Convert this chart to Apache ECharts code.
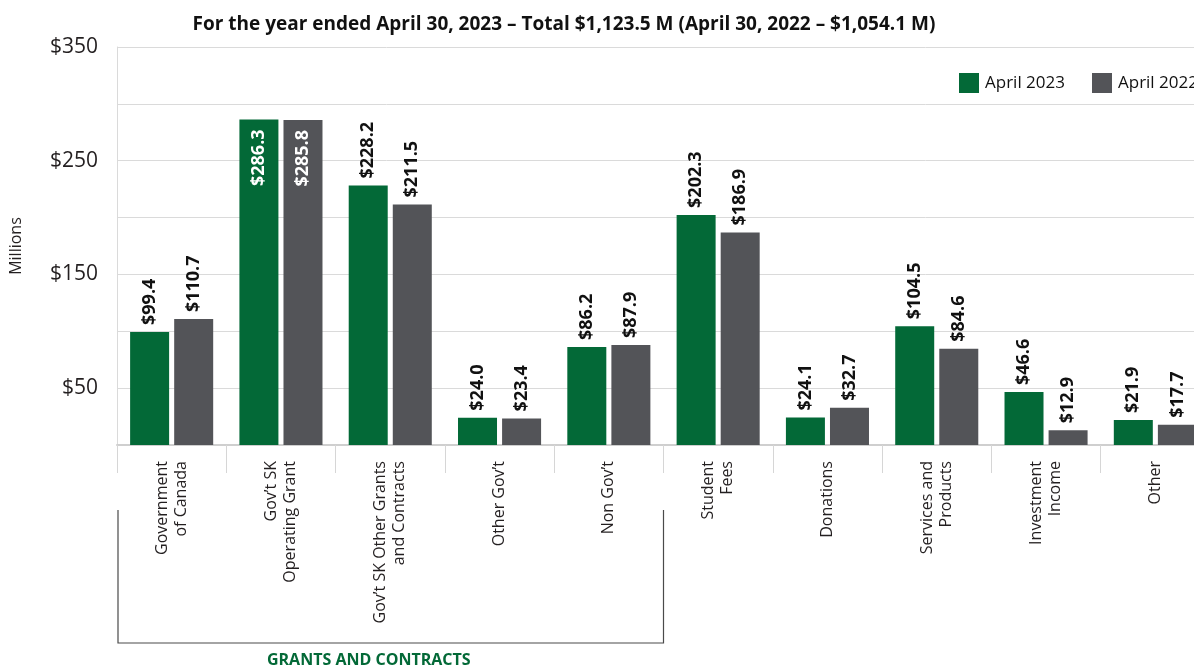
<!DOCTYPE html>
<html>
<head>
<meta charset="utf-8">
<script src="https://cdn.jsdelivr.net/npm/echarts@6/dist/echarts.min.js"></script>
<style>
html,body{margin:0;padding:0;background:#fff;}
#main{width:1194px;height:669px;}
</style>
</head>
<body>
<div id="main"></div>
<script>
const titleText = 'For the year ended April 30, 2023 – Total $1,123.5 M (April 30, 2022 – $1,054.1 M)';
const categories = [
  'Government\nof Canada',
  'Gov’t SK\nOperating Grant',
  'Gov’t SK Other Grants\nand Contracts',
  'Other Gov’t',
  'Non Gov’t',
  'Student\nFees',
  'Donations',
  'Services and\nProducts',
  'Investment\nIncome',
  'Other'
];
const seriesNames = ['April 2023', 'April 2022'];
const values2023 = [99.4, 286.3, 228.2, 24.0, 86.2, 202.3, 24.1, 104.5, 46.6, 21.9];
const values2022 = [110.7, 285.8, 211.5, 23.4, 87.9, 186.9, 32.7, 84.6, 12.9, 17.7];
const groupLabel = 'GRANTS AND CONTRACTS';
const groupCount = 5; // first five categories are grants and contracts
const yMin = 0, yMax = 350, yInterval = 50;

const GREEN = '#036937';
const GREY = '#535458';
const FONT = '"Open Sans", "Noto Sans", sans-serif';

function money(v){ return '$' + v.toFixed(1); }

function makeData(vals){
  return vals.map(v => {
    if (v > 260) {
      return {
        value: v,
        label: {
          position: 'insideTop',
          align: 'right',
          distance: 10,
          color: '#ffffff'
        }
      };
    }
    return v;
  });
}

const baseLabel = {
  show: true,
  position: 'top',
  rotate: 90,
  align: 'left',
  verticalAlign: 'middle',
  distance: 7,
  formatter: p => money(p.value),
  fontFamily: FONT,
  fontWeight: 'bold',
  fontSize: 18,
  color: '#111111'
};

const chart = echarts.init(document.getElementById('main'), null, {renderer: 'canvas'});

const option = {
  animation: false,
  backgroundColor: '#ffffff',
  title: {
    text: titleText,
    left: 559,
    textAlign: 'center',
    top: 10,
    textStyle: {fontFamily: FONT, fontWeight: 'bold', fontSize: 19, color: '#111111'}
  },
  legend: {
    data: seriesNames,
    left: 954,
    top: 68,
    width: 400,
    orient: 'horizontal',
    itemWidth: 20,
    itemHeight: 20,
    itemGap: 27,
    icon: 'rect',
    textStyle: {fontFamily: FONT, fontSize: 17, color: '#111111', padding: [0,0,0,1]}
  },
  grid: {left: 117, width: 1093, top: 47, height: 398, containLabel: false, outerBoundsMode: 'none'},
  xAxis: {
    type: 'category',
    data: categories,
    boundaryGap: true,
    axisLine: {show: true, lineStyle: {color: '#cfcfcf', width: 2}},
    axisTick: {show: true, interval: 0, length: 28, lineStyle: {color: '#d6d6d6', width: 1}},
    axisLabel: {
      interval: 0,
      rotate: 90,
      margin: 16,
      fontFamily: FONT,
      fontSize: 16,
      lineHeight: 19,
      color: '#231f20'
    }
  },
  yAxis: {
    type: 'value',
    min: yMin,
    max: yMax,
    interval: yInterval,
    name: 'Millions',
    nameLocation: 'middle',
    nameRotate: 90,
    nameGap: 93,
    nameTextStyle: {fontFamily: FONT, fontSize: 16, color: '#231f20'},
    axisLine: {show: true, lineStyle: {color: '#dadada', width: 1}},
    axisTick: {show: false},
    splitLine: {show: true, lineStyle: {color: '#dadada', width: 1}},
    axisLabel: {
      margin: 19,
      fontFamily: FONT,
      fontSize: 21,
      color: '#231f20',
      formatter: v => (v % 100 === 50 ? '$' + v : '')
    }
  },
  series: [
    {
      name: seriesNames[0],
      type: 'bar',
      data: makeData(values2023),
      barWidth: 39,
      barGap: '13%',
      itemStyle: {color: GREEN},
      label: baseLabel
    },
    {
      name: seriesNames[1],
      type: 'bar',
      data: makeData(values2022),
      barWidth: 39,
      barGap: '13%',
      itemStyle: {color: GREY},
      label: baseLabel
    }
  ]
};

chart.setOption(option);

// Bracket under the grants and contracts categories, positioned from the category scale
const c0 = chart.convertToPixel({xAxisIndex: 0}, 0);
const c1 = chart.convertToPixel({xAxisIndex: 0}, 1);
const band = c1 - c0;
const bx0 = c0 - band / 2 + 1;
const bx1 = chart.convertToPixel({xAxisIndex: 0}, groupCount - 1) + band / 2;
const byTop = 510, byBot = 643;
chart.setOption({
  graphic: [
    {
      type: 'polyline',
      shape: {points: [[bx0, byTop], [bx0, byBot], [bx1, byBot], [bx1, byTop]]},
      style: {stroke: '#4a4a4a', lineWidth: 1.2, fill: null}
    },
    {
      type: 'text',
      x: (bx0 + bx1) / 2 - 22,
      y: 660,
      style: {
        text: groupLabel,
        fill: GREEN,
        font: 'bold 16px ' + FONT,
        align: 'center',
        verticalAlign: 'middle'
      }
    }
  ]
});
</script>
</body>
</html>
